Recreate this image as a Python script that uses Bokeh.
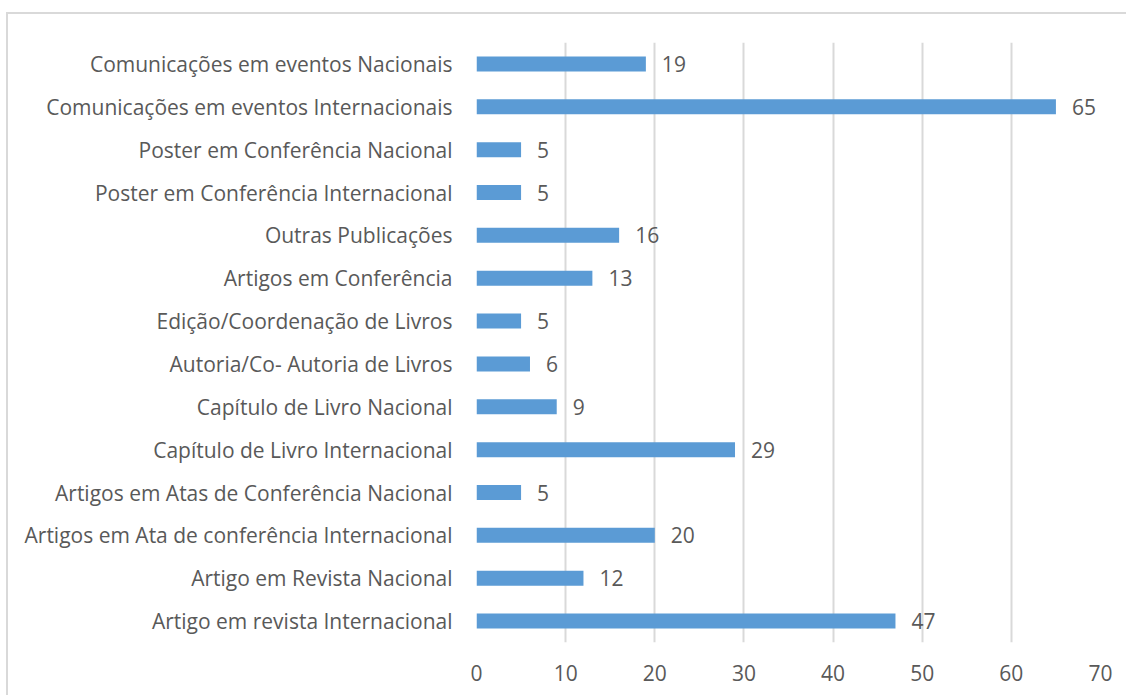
from bokeh.plotting import figure
from bokeh.models import ColumnDataSource, Range1d, FactorRange, FixedTicker
from bokeh.core.properties import value
from bokeh.embed import file_html
from bokeh.resources import INLINE

categories = [
    "Artigo em revista Internacional",
    "Artigo em Revista Nacional",
    "Artigos em Ata de conferência Internacional",
    "Artigos em Atas de Conferência Nacional",
    "Capítulo de Livro Internacional",
    "Capítulo de Livro Nacional",
    "Autoria/Co- Autoria de Livros",
    "Edição/Coordenação de Livros",
    "Artigos em Conferência",
    "Outras Publicações",
    "Poster em Conferência Internacional",
    "Poster em Conferência Nacional",
    "Comunicações em eventos Internacionais",
    "Comunicações em eventos Nacionais",
]
values = [47, 12, 20, 5, 29, 9, 6, 5, 13, 16, 5, 5, 65, 19]
x_ticks = [0, 10, 20, 30, 40, 50, 60, 70]

FONT = "Open Sans"
TEXT_COLOR = "#595959"

source = ColumnDataSource(dict(
    cat=categories,
    val=values,
    label=[str(v) for v in values],
))

p = figure(
    width=1120, height=683,
    y_range=FactorRange(factors=categories, range_padding=0),
    x_range=Range1d(0, 70),
    output_backend="svg", toolbar_location=None,
    min_border_left=468, min_border_right=28,
    min_border_top=28, min_border_bottom=55,
)
p.styles = {"border-left": "2px solid #d9d9d9", "border-top": "2px solid #d9d9d9",
            "margin-left": "6px", "margin-top": "12px"}
p.outline_line_color = None
p.background_fill_color = "white"
p.border_fill_color = "white"

p.hbar(y="cat", right="val", left=0, height=0.35, source=source,
       fill_color="#5B9BD5", line_color=None)

p.text(x="val", y="cat", text="label", source=source,
       x_offset=16, text_baseline="middle", text_align="left",
       text_font=value(FONT), text_font_size="21px", text_color=TEXT_COLOR)

p.ygrid.grid_line_color = None
p.xgrid.grid_line_color = "#d9d9d9"
p.xgrid.grid_line_width = 2
p.xaxis.ticker = FixedTicker(ticks=x_ticks)

for ax in (p.xaxis[0], p.yaxis[0]):
    ax.axis_line_color = None
    ax.major_tick_line_color = None
    ax.minor_tick_line_color = None
    ax.major_label_text_font = FONT
    ax.major_label_text_font_size = "21px"
    ax.major_label_text_color = TEXT_COLOR

p.yaxis.major_label_standoff = 18
p.xaxis.major_label_standoff = 16

open("out.html", "w").write(file_html(p, INLINE))
